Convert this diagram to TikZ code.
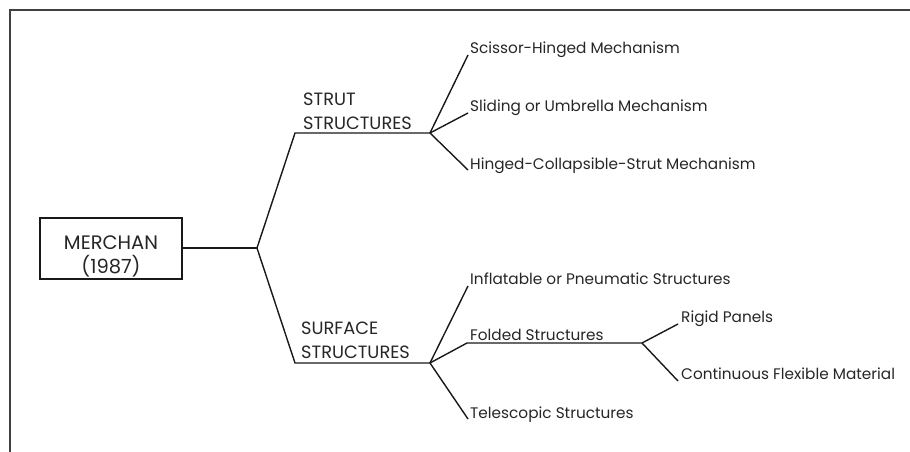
\documentclass[tikz,border=0pt]{standalone}
\usepackage{fontspec}
\setmainfont{Poppins}
\begin{document}
\begin{tikzpicture}[x=1pt,y=-1pt,
  conn/.style={line width=1.4pt, draw=black!90, line join=miter},
  lbl/.style={anchor=base west, inner sep=0pt, text=black!85, font=\fontsize{15.3}{24}\selectfont},
  cat/.style={anchor=south west, inner sep=0pt, align=left, text=black!85, font=\fontsize{17.8}{24}\selectfont}]
\useasboundingbox (0,0) rectangle (910,452);
\draw[line width=1.5pt, draw=black!75] (10,452) -- (10,10) -- (910,10);
% root
\node[draw=black!90, line width=1.4pt, minimum width=142pt, minimum height=61pt, inner sep=0pt] (merchan) at (111,248.5) {};
\node[anchor=south, inner sep=0pt, align=center, text=black!85, font=\fontsize{19.5}{24}\selectfont] (merchantext) at (111,277.5) {MERCHAN\\(1987)};
% junctions
\coordinate (j0) at (257,248);
\coordinate (se) at (295,133);
\coordinate (sj) at (430,133);
\coordinate (fe) at (295,363);
\coordinate (fj) at (430,363);
\coordinate (fold) at (642,343);
% category labels
\node[cat] (strut) at (303,130) {STRUT\\STRUCTURES};
\node[cat] (surface) at (301,359) {SURFACE\\STRUCTURES};
% leaf labels
\node[lbl] (scissor) at (470,53) {Scissor-Hinged Mechanism};
\node[lbl] (sliding) at (470,111) {Sliding or Umbrella Mechanism};
\node[lbl] (hinged) at (470,169) {Hinged-Collapsible-Strut Mechanism};
\node[lbl] (inflat) at (470,284) {Inflatable or Pneumatic Structures};
\node[lbl] (folded) at (470,340) {Folded Structures};
\node[lbl] (telesc) at (470,418) {Telescopic Structures};
\node[lbl] (rigid) at (681,322) {Rigid Panels};
\node[lbl] (contin) at (681,379) {Continuous Flexible Material};
% end points
\coordinate (e1) at (468,55);
\coordinate (e2) at (468,113);
\coordinate (e3) at (468,170);
\coordinate (e4) at (468,286);
\coordinate (e5) at (467,343);
\coordinate (e6) at (468,419);
\coordinate (e7) at (678,324);
\coordinate (e8) at (678,381);
% connectors
\draw[conn] (merchan.east |- j0) -- (j0);
\draw[conn] (j0) -- (se) -- (sj);
\draw[conn] (j0) -- (fe) -- (fj);
\draw[conn] (sj) -- (e1);
\draw[conn] (sj) -- (e2);
\draw[conn] (sj) -- (e3);
\draw[conn] (fj) -- (e4);
\draw[conn] (fj) -- (e5) -- (fold);
\draw[conn] (fj) -- (e6);
\draw[conn] (fold) -- (e7);
\draw[conn] (fold) -- (e8);
\end{tikzpicture}
\end{document}
